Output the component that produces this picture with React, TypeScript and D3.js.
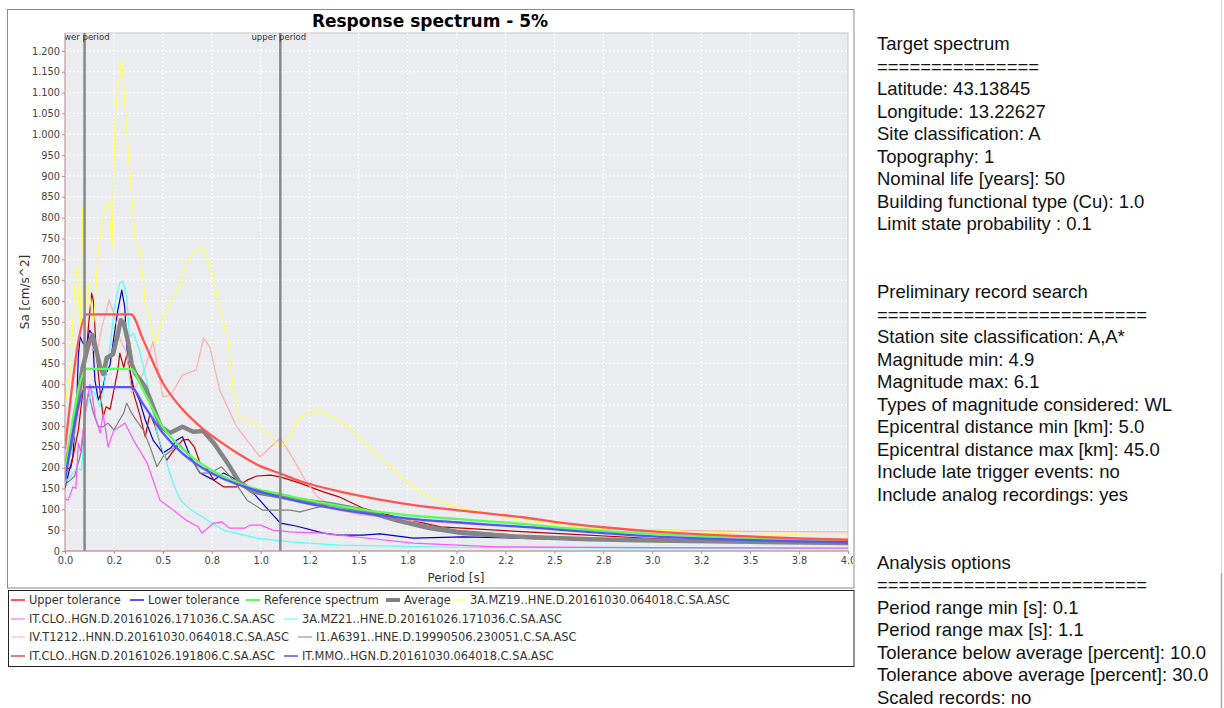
import React, { useEffect, useRef } from 'react';
import * as d3 from 'd3';

// periods of the target spectrum and of its tolerance band
const refPeriods = [0, 0.112, 0.337, 0.4, 0.5, 0.6, 0.7, 0.8, 0.9, 1.0, 1.1, 1.2, 1.4, 1.6, 1.8, 2.0, 2.2, 2.34, 2.5, 2.75, 3.0, 3.25, 3.5, 3.75, 4.0];
const referenceSa = [187, 437, 437, 385, 297, 245, 208, 181, 160, 146, 137, 126, 108, 94, 84, 77, 70, 65, 57, 48, 41, 36, 31, 28, 25];
const upperSa = [243, 568, 568, 506, 403, 340, 295, 260, 229, 203, 186, 168, 143, 124, 109, 98, 88, 81, 70, 57, 47, 40, 35, 30, 27];
const lowerSa = [168, 393, 393, 352, 283, 234, 200, 175, 157, 142, 129, 118, 100, 86, 76, 69, 62, 58, 52, 43, 35, 30, 26, 23, 21];

const averageSa: [number, number][] = [
  [0, 195], [0.03, 260], [0.06, 345], [0.09, 440], [0.12, 495], [0.14, 518], [0.16, 482], [0.18, 440],
  [0.196, 425], [0.213, 463], [0.245, 472], [0.27, 520], [0.285, 554], [0.3, 548], [0.323, 500], [0.34, 450],
  [0.358, 427], [0.41, 394], [0.45, 346], [0.49, 298], [0.536, 283], [0.6, 298], [0.655, 286], [0.706, 288],
  [0.76, 259], [0.83, 211], [0.89, 166], [0.96, 142], [1.11, 130], [1.2, 122],
  [1.35, 113], [1.52, 98], [1.69, 74], [1.86, 55], [2.03, 43], [2.29, 35], [2.68, 28], [3.0, 25], [3.5, 22], [4.0, 19],
];

const mz19: [number, number][] = [
  [0, 350], [0.015, 400], [0.03, 440], [0.045, 600], [0.05, 634], [0.06, 679], [0.07, 600], [0.078, 530],
  [0.09, 826], [0.1, 560], [0.118, 640], [0.135, 580], [0.147, 547], [0.17, 722], [0.198, 814], [0.223, 838],
  [0.24, 727], [0.257, 1051], [0.288, 1178], [0.3, 1114], [0.325, 946], [0.36, 739], [0.385, 722], [0.41, 595],
  [0.46, 499], [0.5, 560], [0.536, 595], [0.59, 640], [0.62, 690], [0.66, 718], [0.7, 730], [0.76, 658],
  [0.78, 602], [0.83, 514], [0.86, 386], [0.89, 322], [0.96, 307], [1.03, 283], [1.1, 247], [1.15, 274],
  [1.2, 322], [1.3, 338], [1.42, 307], [1.47, 290], [1.54, 255], [1.61, 225], [1.71, 180], [1.78, 154],
  [1.86, 128], [2.0, 106], [2.2, 86], [2.44, 67], [2.68, 55], [3.0, 50], [3.5, 42], [4.0, 36],
];

const clo171036: [number, number][] = [
  [0, 125], [0.017, 122], [0.04, 154], [0.055, 150], [0.068, 259], [0.08, 240], [0.11, 355], [0.128, 400],
  [0.14, 370], [0.155, 322], [0.18, 283], [0.195, 330], [0.22, 250], [0.25, 290], [0.28, 298], [0.306, 307],
  [0.35, 266], [0.42, 211], [0.485, 122], [0.52, 110], [0.62, 74], [0.68, 58], [0.7, 43], [0.76, 67], [0.8, 70],
  [0.84, 55], [0.92, 55], [0.945, 62], [1.0, 62], [1.06, 50], [1.15, 46], [1.32, 43], [1.4, 38],
  [1.5, 33], [1.78, 19], [2.2, 10], [3.0, 8], [4.0, 7],
];

const mz21: [number, number][] = [
  [0, 165], [0.03, 180], [0.06, 200], [0.085, 194], [0.095, 260], [0.102, 331], [0.136, 386], [0.153, 378],
  [0.179, 346], [0.196, 386], [0.23, 490], [0.255, 595], [0.28, 643], [0.295, 648], [0.315, 610], [0.33, 514],
  [0.35, 523], [0.38, 482], [0.42, 403], [0.47, 283], [0.51, 226], [0.55, 165], [0.59, 122], [0.64, 100],
  [0.67, 91], [0.7, 82], [0.81, 50], [0.98, 31], [1.15, 22], [1.4, 14], [2.0, 9], [3.0, 7], [4.0, 6],
];

const t1212: [number, number][] = [
  [0, 195], [0.04, 260], [0.07, 330], [0.1, 440], [0.13, 500], [0.16, 470], [0.19, 540], [0.225, 602],
  [0.25, 570], [0.28, 510], [0.315, 475], [0.34, 379], [0.37, 400], [0.4, 427], [0.45, 502], [0.5, 370],
  [0.54, 375], [0.6, 422], [0.67, 434], [0.707, 511], [0.74, 490], [0.79, 386], [0.877, 298], [0.996, 226],
  [1.1, 271], [1.17, 218], [1.22, 175], [1.29, 130], [1.4, 98], [1.5, 88], [1.8, 72], [2.0, 66], [2.5, 56],
  [3.0, 50], [3.5, 47], [4.0, 46],
];

const a6391: [number, number][] = [
  [0, 160], [0.017, 166], [0.05, 180], [0.085, 242], [0.1, 320], [0.12, 380], [0.145, 331], [0.17, 298],
  [0.195, 298], [0.22, 307], [0.25, 290], [0.27, 307], [0.3, 331], [0.315, 355], [0.34, 331], [0.37, 310],
  [0.4, 290], [0.434, 250], [0.47, 202], [0.5, 226], [0.545, 242], [0.58, 259], [0.62, 238], [0.655, 214],
  [0.69, 187], [0.74, 187], [0.8, 202], [0.86, 170], [0.93, 122], [1.01, 98], [1.15, 98], [1.2, 94],
  [1.3, 106], [1.36, 113], [1.5, 100], [1.7, 75], [2.0, 50], [2.5, 30], [3.0, 25], [3.5, 22], [4.0, 20],
];

const clo191806: [number, number][] = [
  [0, 194], [0.03, 200], [0.068, 290], [0.094, 394], [0.12, 540], [0.136, 619], [0.145, 600], [0.16, 475],
  [0.18, 379], [0.195, 322], [0.21, 346], [0.23, 340], [0.25, 386], [0.27, 434], [0.28, 475], [0.3, 440],
  [0.315, 470], [0.35, 379], [0.38, 331], [0.41, 274], [0.434, 331], [0.46, 300], [0.5, 235],
  [0.52, 218], [0.55, 238], [0.6, 266], [0.63, 268], [0.66, 250], [0.69, 211], [0.72, 202], [0.76, 170],
  [0.81, 154], [0.88, 154], [0.93, 170], [0.98, 180], [1.05, 182], [1.1, 178], [1.2, 163], [1.32, 142],
  [1.4, 130], [1.52, 103], [1.69, 82], [1.92, 58], [2.2, 50], [2.55, 41], [3.0, 30], [3.5, 22], [3.8, 18], [4.0, 20],
];

const mmo064018: [number, number][] = [
  [0, 150], [0.02, 190], [0.04, 226], [0.06, 355], [0.068, 466], [0.077, 514], [0.09, 500], [0.11, 490],
  [0.125, 530], [0.14, 520], [0.153, 410], [0.17, 362], [0.19, 386], [0.21, 427], [0.23, 446], [0.25, 514],
  [0.27, 578], [0.29, 626], [0.305, 586], [0.32, 458], [0.35, 394], [0.38, 362], [0.41, 315],
  [0.45, 266], [0.5, 235], [0.54, 247], [0.57, 266], [0.6, 274], [0.64, 226],
  [0.69, 187], [0.76, 170], [0.81, 187], [0.86, 175], [0.93, 154], [0.98, 130], [1.04, 98],
  [1.1, 67], [1.18, 60], [1.32, 43], [1.4, 38], [1.52, 38], [1.61, 41], [1.78, 31], [2.03, 34], [2.3, 31],
  [2.68, 26], [3.0, 25], [3.5, 23], [4.0, 22],
];

const periodMarkers = [
  { label: 'lower period', t: 0.1 },
  { label: 'upper period', t: 1.1 },
];

const xTickValues = [0, 0.25, 0.5, 0.75, 1, 1.25, 1.5, 1.75, 2, 2.25, 2.5, 2.75, 3, 3.25, 3.5, 3.75, 4];
const xTickLabels = ['0.0', '0.2', '0.5', '0.8', '1.0', '1.2', '1.5', '1.8', '2.0', '2.2', '2.5', '2.8', '3.0', '3.2', '3.5', '3.8', '4.0'];
const yTickValues = d3.range(0, 1201, 50);

const records = [
  { name: '3A.MZ19..HNE.D.20161030.064018.C.SA.ASC', color: '#ffff55', data: mz19 },
  { name: 'IT.CLO..HGN.D.20161026.171036.C.SA.ASC', color: '#ff55ff', data: clo171036 },
  { name: '3A.MZ21..HNE.D.20161026.171036.C.SA.ASC', color: '#55ffff', data: mz21 },
  { name: 'IV.T1212..HNN.D.20161030.064018.C.SA.ASC', color: '#ffafaf', data: t1212 },
  { name: 'I1.A6391..HNE.D.19990506.230051.C.SA.ASC', color: '#808080', data: a6391 },
  { name: 'IT.CLO..HGN.D.20161026.191806.C.SA.ASC', color: '#c00000', data: clo191806 },
  { name: 'IT.MMO..HGN.D.20161030.064018.C.SA.ASC', color: '#0000c0', data: mmo064018 },
];

const infoLines = [
  'Target spectrum', '===============', 'Latitude: 43.13845', 'Longitude: 13.22627', 'Site classification: A',
  'Topography: 1', 'Nominal life [years]: 50', 'Building functional type (Cu): 1.0', 'Limit state probability : 0.1',
  '', '', 'Preliminary record search', '=========================', 'Station site classification: A,A*',
  'Magnitude min: 4.9', 'Magnitude max: 6.1', 'Types of magnitude considered: WL', 'Epicentral distance min [km]: 5.0',
  'Epicentral distance max [km]: 45.0', 'Include late trigger events: no', 'Include analog recordings: yes',
  '', '', 'Analysis options', '=========================', 'Period range min [s]: 0.1', 'Period range max [s]: 1.1',
  'Tolerance below average [percent]: 10.0', 'Tolerance above average [percent]: 30.0', 'Scaled records: no',
];

// plot area
const left = 65, right = 848, top = 33, bottom = 551;
const chartFont = 'DejaVu Sans, Verdana, sans-serif';

const x = d3.scaleLinear().domain([0, 4]).range([left, right]);
const y = d3.scaleLinear().domain([0, 1243]).range([bottom, top]);
const itFormat = d3.formatLocale({ decimal: ',', thousands: '.', grouping: [3], currency: ['', ''] }).format(',');

const line = d3.line<[number, number]>().x(d => x(d[0])).y(d => y(d[1]));
const smooth = d3.line<[number, number]>().x(d => x(d[0])).y(d => y(d[1])).curve(d3.curveMonotoneX);
const zipRef = (vals: number[]) => refPeriods.map((t, i) => [t, vals[i]] as [number, number]);

const legendRows = [
  [
    { name: 'Upper tolerance', color: '#ff5555', w: 2, tx: 29 },
    { name: 'Lower tolerance', color: '#5555ff', w: 2, tx: 148 },
    { name: 'Reference spectrum', color: '#55ff55', w: 2, tx: 264 },
    { name: 'Average', color: '#808080', w: 4, tx: 404 },
    { name: records[0].name, color: records[0].color, w: 1, tx: 470 },
  ],
  [
    { name: records[1].name, color: records[1].color, w: 1, tx: 29 },
    { name: records[2].name, color: records[2].color, w: 1, tx: 302 },
  ],
  [
    { name: records[3].name, color: records[3].color, w: 1, tx: 29 },
    { name: records[4].name, color: records[4].color, w: 1, tx: 316 },
  ],
  [
    { name: records[5].name, color: records[5].color, w: 1, tx: 29 },
    { name: records[6].name, color: records[6].color, w: 1, tx: 302 },
  ],
];
const legendY = [600, 619, 637, 656];

export default function App() {
  const axisRef = useRef<SVGGElement>(null);

  useEffect(() => {
    document.body.style.margin = '0';
    const g = d3.select(axisRef.current);
    g.selectAll('*').remove();

    const yAxis = g.append('g')
      .attr('transform', `translate(${left},0)`)
      .call(d3.axisLeft(y).tickValues(yTickValues).tickSize(3).tickPadding(2).tickFormat(d => itFormat(d as number)));
    const xAxis = g.append('g')
      .attr('transform', `translate(0,${bottom})`)
      .call(d3.axisBottom(x).tickValues(xTickValues).tickSize(3).tickPadding(3)
        .tickFormat((d, i) => xTickLabels[i]));

    [yAxis, xAxis].forEach(a => {
      a.select('.domain').remove();
      a.attr('font-family', chartFont).attr('font-size', 9.8);
      a.selectAll('.tick line').attr('stroke', '#999');
      a.selectAll('.tick text').attr('fill', '#444');
    });
  }, []);

  return (
    <svg width={1224} height={708} style={{ position: 'absolute', left: 0, top: 0, background: '#fff' }}>
      <defs>
        <clipPath id="plotClip"><rect x={left} y={top} width={right - left} height={bottom - top} /></clipPath>
        <clipPath id="frameClip"><rect x={7} y={9} width={846} height={579} /></clipPath>
      </defs>

      <rect x={7.5} y={9.5} width={846.5} height={578.5} fill="#fff" stroke="#8a8a8a" />
      <text x={430} y={26.5} textAnchor="middle" fontFamily={chartFont} fontWeight="bold" fontSize={17}>
        Response spectrum - 5%
      </text>

      <rect x={left} y={top} width={right - left} height={bottom - top} fill="#ebecef" stroke="#c8c8c8" />

      {/* dotted grid */}
      <g stroke="#fff" strokeWidth={1} strokeDasharray="2,2">
        {xTickValues.slice(1, -1).map(t => (
          <line key={'gx' + t} x1={x(t)} x2={x(t)} y1={top} y2={bottom} />
        ))}
        {yTickValues.slice(1).map(v => (
          <line key={'gy' + v} x1={left} x2={right} y1={y(v)} y2={y(v)} />
        ))}
      </g>

      <g clipPath="url(#plotClip)" fill="none" strokeLinejoin="round">
        {records.slice().reverse().map(r => (
          <path key={r.name} d={line(r.data) || ''} stroke={r.color} strokeWidth={1.2} />
        ))}
        <path d={line(averageSa) || ''} stroke="#858585" strokeWidth={4.5} />
        <path d={smooth(zipRef(referenceSa)) || ''} stroke="#55ff55" strokeWidth={2.3} />
        <path d={smooth(zipRef(lowerSa)) || ''} stroke="#5555ff" strokeWidth={2.3} />
        <path d={smooth(zipRef(upperSa)) || ''} stroke="#ff5555" strokeWidth={2.3} />

        {periodMarkers.map(m => (
          <g key={m.label}>
            <line x1={x(m.t)} x2={x(m.t)} y1={top} y2={bottom} stroke="#888" strokeWidth={2.5} />
            <text x={x(m.t) - 1.5} y={39.5} textAnchor="middle" fontFamily={chartFont} fontSize={8.5} fill="#333">
              {m.label}
            </text>
          </g>
        ))}
      </g>

      <line x1={left} x2={left} y1={top} y2={bottom} stroke="#d49a9a" strokeWidth={1} />
      <line x1={left} x2={right} y1={bottom} y2={bottom} stroke="#c88a8a" strokeWidth={1} />

      <g ref={axisRef} clipPath="url(#frameClip)" />

      <text x={456} y={582} textAnchor="middle" fontFamily={chartFont} fontSize={12} fill="#333">Period [s]</text>
      <text transform={`translate(29,${(top + bottom) / 2}) rotate(-90)`} textAnchor="middle" fontFamily={chartFont} fontSize={12} fill="#333">
        Sa [cm/s^2]
      </text>

      {/* legend */}
      <rect x={8.5} y={590.5} width={845.5} height={76} fill="#fff" stroke="#222" />
      {legendRows.map((row, ri) => row.map(item => (
        <g key={item.name}>
          <line x1={item.tx - 18} x2={item.tx - 4} y1={legendY[ri]} y2={legendY[ri]} stroke={item.color} strokeWidth={item.w} />
          <text x={item.tx} y={legendY[ri] + 4.2} fontFamily={chartFont} fontSize={11.4} fill="#333">{item.name}</text>
        </g>
      )))}

      {/* settings panel */}
      <g fontFamily="Liberation Sans, Arial, sans-serif" fontSize={18.5} fill="#111">
        {infoLines.map((s, i) => (
          <text key={i} x={877} y={50 + 22.55 * i}>{s}</text>
        ))}
      </g>
      <line x1={1221.5} x2={1221.5} y1={0} y2={708} stroke="#d4d4d4" />
      <line x1={1221.5} x2={1221.5} y1={573} y2={708} stroke="#a8a8a8" strokeWidth={1.5} />
    </svg>
  );
}
